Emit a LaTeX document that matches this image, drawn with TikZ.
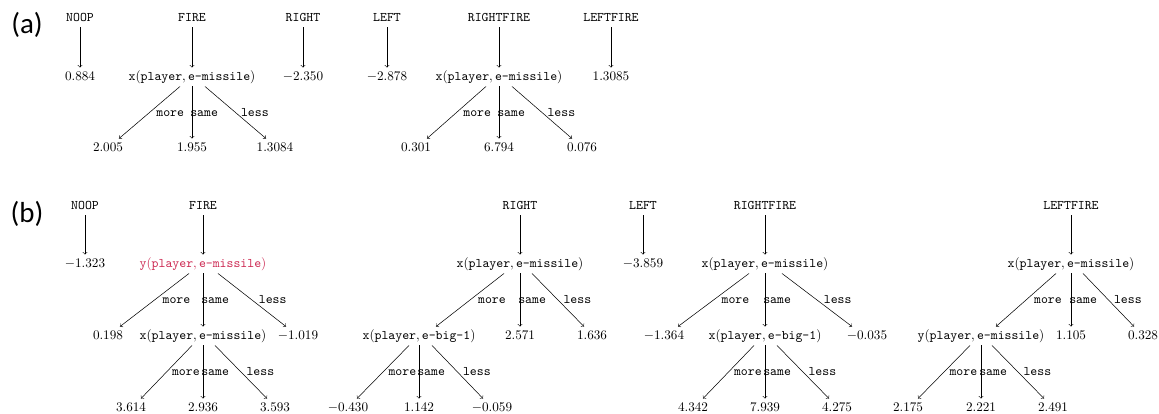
\documentclass[tikz,border=0pt]{standalone}
\usepackage{fontspec}
\newfontfamily\panelfont{Carlito}
\usetikzlibrary{calc}
\definecolor{hlred}{RGB}{204,41,82}
\newcommand{\xmis}{$\texttt{x}(\texttt{player}, \texttt{e-missile})$}
\newcommand{\ymis}{$\texttt{y}(\texttt{player}, \texttt{e-missile})$}
\newcommand{\xbig}{$\texttt{x}(\texttt{player}, \texttt{e-big-1})$}
\tikzset{%
    action/.style={
      font=\ttfamily,
      inner sep=2pt,
      text height=7.5pt,
      text depth=2.5pt
    },
    leaf/.style={
      inner sep=2pt,
      text height=7.5pt,
      text depth=2.5pt
    },
    branch/.style={
      font=\ttfamily,
      inner sep=0pt,
      text height=1.5ex,
      text depth=0.25ex
    },
    panel/.style={
      font=\panelfont\fontsize{22}{26}\selectfont
    }
  }

\begin{document}
\begin{tikzpicture}[x=0.76pt, y=-0.76pt, >=to]
      \useasboundingbox (0,0) rectangle (1159,414);

      \node [panel] (pa) at (27,25) {(a)};
      \node [panel] (pb) at (27,214) {(b)};

      % (a)
      \node [action] (a-noop) at (80,18) {NOOP};
      \node [leaf] (a-noop-v) at (80,77) {$0.884$};
      \draw [->] (a-noop) -- (a-noop-v);

      \node [action] (a-fire) at (192,18) {FIRE};
      \node [leaf] (a-fire-t) at (192,77) {\xmis};
      \node [leaf] (a-fire-l) at (108,148) {$2.005$};
      \node [leaf] (a-fire-m) at (192,148) {$1.955$};
      \node [leaf] (a-fire-r) at (275,148) {$1.3084$};
      \draw [->] (a-fire) -- (a-fire-t);
      \draw [->] ($(a-fire-t.south)+(-12,0)$) -- ($(a-fire-l.north)+(11,0)$)
        node [branch, midway, right=5pt] (a-fire-more) {more};
      \draw [->] (a-fire-t) -- (a-fire-m)
        node [branch, midway, right=-1.5pt] (a-fire-same) {same};
      \draw [->] ($(a-fire-t.south)+(13,0)$) -- ($(a-fire-r.north)+(-9,0)$)
        node [branch, midway, right=4pt] (a-fire-less) {less};

      \node [action] (a-right) at (303,18) {RIGHT};
      \node [leaf] (a-right-v) at (303,77) {$-2.350$};
      \draw [->] (a-right) -- (a-right-v);

      \node [action] (a-left) at (387,18) {LEFT};
      \node [leaf] (a-left-v) at (387,77) {$-2.878$};
      \draw [->] (a-left) -- (a-left-v);

      \node [action] (a-rf) at (499,18) {RIGHTFIRE};
      \node [leaf] (a-rf-t) at (499,77) {\xmis};
      \node [leaf] (a-rf-l) at (416,148) {$0.301$};
      \node [leaf] (a-rf-m) at (499,148) {$6.794$};
      \node [leaf] (a-rf-r) at (582,148) {$0.076$};
      \draw [->] (a-rf) -- (a-rf-t);
      \draw [->] ($(a-rf-t.south)+(-13,0)$) -- ($(a-rf-l.north)+(11,0)$)
        node [branch, midway, right=5pt] (a-rf-more) {more};
      \draw [->] (a-rf-t) -- (a-rf-m)
        node [branch, midway, right=-1.5pt] (a-rf-same) {same};
      \draw [->] ($(a-rf-t.south)+(13,0)$) -- ($(a-rf-r.north)+(-10,0)$)
        node [branch, midway, right=4pt] (a-rf-less) {less};

      \node [action] (a-lf) at (611,18) {LEFTFIRE};
      \node [leaf] (a-lf-v) at (611,77) {$1.3085$};
      \draw [->] (a-lf) -- (a-lf-v);

      % (b)
      \node [action] (b-noop) at (85,206) {NOOP};
      \node [leaf] (b-noop-v) at (85,264) {$-1.323$};
      \draw [->] (b-noop) -- (b-noop-v);

      \node [action] (b-fire) at (203,206) {FIRE};
      \node [leaf, text=hlred] (b-fire-t) at (203,264) {\ymis};
      \node [leaf] (b-fire-l) at (108,336) {$0.198$};
      \node [leaf] (b-fire-t2) at (203,336) {\xmis};
      \node [leaf] (b-fire-r) at (298,336) {$-1.019$};
      \node [leaf] (b-fire-ll) at (131,408) {$3.614$};
      \node [leaf] (b-fire-lm) at (203,408) {$2.936$};
      \node [leaf] (b-fire-lr) at (275,408) {$3.593$};
      \draw [->] (b-fire) -- (b-fire-t);
      \draw [->] ($(b-fire-t.south)+(-14,0)$) -- ($(b-fire-l.north)+(12,0)$)
        node [branch, midway, right=6pt] (b-fire-more) {more};
      \draw [->] (b-fire-t) -- (b-fire-t2)
        node [branch, midway, right=-1.5pt] (b-fire-same) {same};
      \draw [->] ($(b-fire-t.south)+(15,0)$) -- ($(b-fire-r.north)+(-12,0)$)
        node [branch, midway, right=5pt] (b-fire-less) {less};
      \draw [->] ($(b-fire-t2.south)+(-11,0)$) -- ($(b-fire-ll.north)+(10,0)$)
        node [branch, midway, right=4pt] (b-fire-more2) {more};
      \draw [->] (b-fire-t2) -- (b-fire-lm)
        node [branch, midway, right=-1.5pt] (b-fire-same2) {same};
      \draw [->] ($(b-fire-t2.south)+(12,0)$) -- ($(b-fire-lr.north)+(-8,0)$)
        node [branch, midway, right=4pt] (b-fire-less2) {less};

      \node [action] (b-right) at (520,206) {RIGHT};
      \node [leaf] (b-right-t) at (520,264) {\xmis};
      \node [leaf] (b-right-t2) at (419,336) {\xbig};
      \node [leaf] (b-right-m) at (520,336) {$2.571$};
      \node [leaf] (b-right-r) at (592,336) {$1.636$};
      \node [leaf] (b-right-ll) at (348,408) {$-0.430$};
      \node [leaf] (b-right-lm) at (419,408) {$1.142$};
      \node [leaf] (b-right-lr) at (492,408) {$-0.059$};
      \draw [->] (b-right) -- (b-right-t);
      \draw [->] ($(b-right-t.south)+(-16,0)$) -- ($(b-right-t2.north)+(17,0)$)
        node [branch, midway, right=6pt] (b-right-more) {more};
      \draw [->] (b-right-t) -- (b-right-m)
        node [branch, midway, right=-1.5pt] (b-right-same) {same};
      \draw [->] ($(b-right-t.south)+(12,0)$) -- ($(b-right-r.north)+(-8,0)$)
        node [branch, midway, right=4pt] (b-right-less) {less};
      \draw [->] ($(b-right-t2.south)+(-10,0)$) -- ($(b-right-ll.north)+(9,0)$)
        node [branch, midway, right=4pt] (b-right-more2) {more};
      \draw [->] (b-right-t2) -- (b-right-lm)
        node [branch, midway, right=-1.5pt] (b-right-same2) {same};
      \draw [->] ($(b-right-t2.south)+(13,0)$) -- ($(b-right-lr.north)+(-9,0)$)
        node [branch, midway, right=4pt] (b-right-less2) {less};

      \node [action] (b-left) at (643,206) {LEFT};
      \node [leaf] (b-left-v) at (643,264) {$-3.859$};
      \draw [->] (b-left) -- (b-left-v);

      \node [action] (b-rf) at (765,206) {RIGHTFIRE};
      \node [leaf] (b-rf-t) at (765,264) {\xmis};
      \node [leaf] (b-rf-l) at (664,336) {$-1.364$};
      \node [leaf] (b-rf-t2) at (765,336) {\xbig};
      \node [leaf] (b-rf-r) at (867,336) {$-0.035$};
      \node [leaf] (b-rf-ll) at (693,408) {$4.342$};
      \node [leaf] (b-rf-lm) at (765,408) {$7.939$};
      \node [leaf] (b-rf-lr) at (837,408) {$4.275$};
      \draw [->] (b-rf) -- (b-rf-t);
      \draw [->] ($(b-rf-t.south)+(-16,0)$) -- ($(b-rf-l.north)+(14,0)$)
        node [branch, midway, right=6pt] (b-rf-more) {more};
      \draw [->] (b-rf-t) -- (b-rf-t2)
        node [branch, midway, right=-1.5pt] (b-rf-same) {same};
      \draw [->] ($(b-rf-t.south)+(17,0)$) -- ($(b-rf-r.north)+(-15,0)$)
        node [branch, midway, right=5pt] (b-rf-less) {less};
      \draw [->] ($(b-rf-t2.south)+(-11,0)$) -- ($(b-rf-ll.north)+(10,0)$)
        node [branch, midway, right=4pt] (b-rf-more2) {more};
      \draw [->] (b-rf-t2) -- (b-rf-lm)
        node [branch, midway, right=-1.5pt] (b-rf-same2) {same};
      \draw [->] ($(b-rf-t2.south)+(12,0)$) -- ($(b-rf-lr.north)+(-8,0)$)
        node [branch, midway, right=4pt] (b-rf-less2) {less};

      \node [action] (b-lf) at (1071,206) {LEFTFIRE};
      \node [leaf] (b-lf-t) at (1071,264) {\xmis};
      \node [leaf] (b-lf-t2) at (981,336) {\ymis};
      \node [leaf] (b-lf-m) at (1071,336) {$1.105$};
      \node [leaf] (b-lf-r) at (1143,336) {$0.328$};
      \node [leaf] (b-lf-ll) at (908,408) {$2.175$};
      \node [leaf] (b-lf-lm) at (981,408) {$2.221$};
      \node [leaf] (b-lf-lr) at (1053,408) {$2.491$};
      \draw [->] (b-lf) -- (b-lf-t);
      \draw [->] ($(b-lf-t.south)+(-15,0)$) -- ($(b-lf-t2.north)+(15,0)$)
        node [branch, midway, right=6pt] (b-lf-more) {more};
      \draw [->] (b-lf-t) -- (b-lf-m)
        node [branch, midway, right=-1.5pt] (b-lf-same) {same};
      \draw [->] ($(b-lf-t.south)+(12,0)$) -- ($(b-lf-r.north)+(-9,0)$)
        node [branch, midway, right=4pt] (b-lf-less) {less};
      \draw [->] ($(b-lf-t2.south)+(-11,0)$) -- ($(b-lf-ll.north)+(10,0)$)
        node [branch, midway, right=4pt] (b-lf-more2) {more};
      \draw [->] (b-lf-t2) -- (b-lf-lm)
        node [branch, midway, right=-1.5pt] (b-lf-same2) {same};
      \draw [->] ($(b-lf-t2.south)+(11,0)$) -- ($(b-lf-lr.north)+(-9,0)$)
        node [branch, midway, right=4pt] (b-lf-less2) {less};

    \end{tikzpicture}
\end{document}
